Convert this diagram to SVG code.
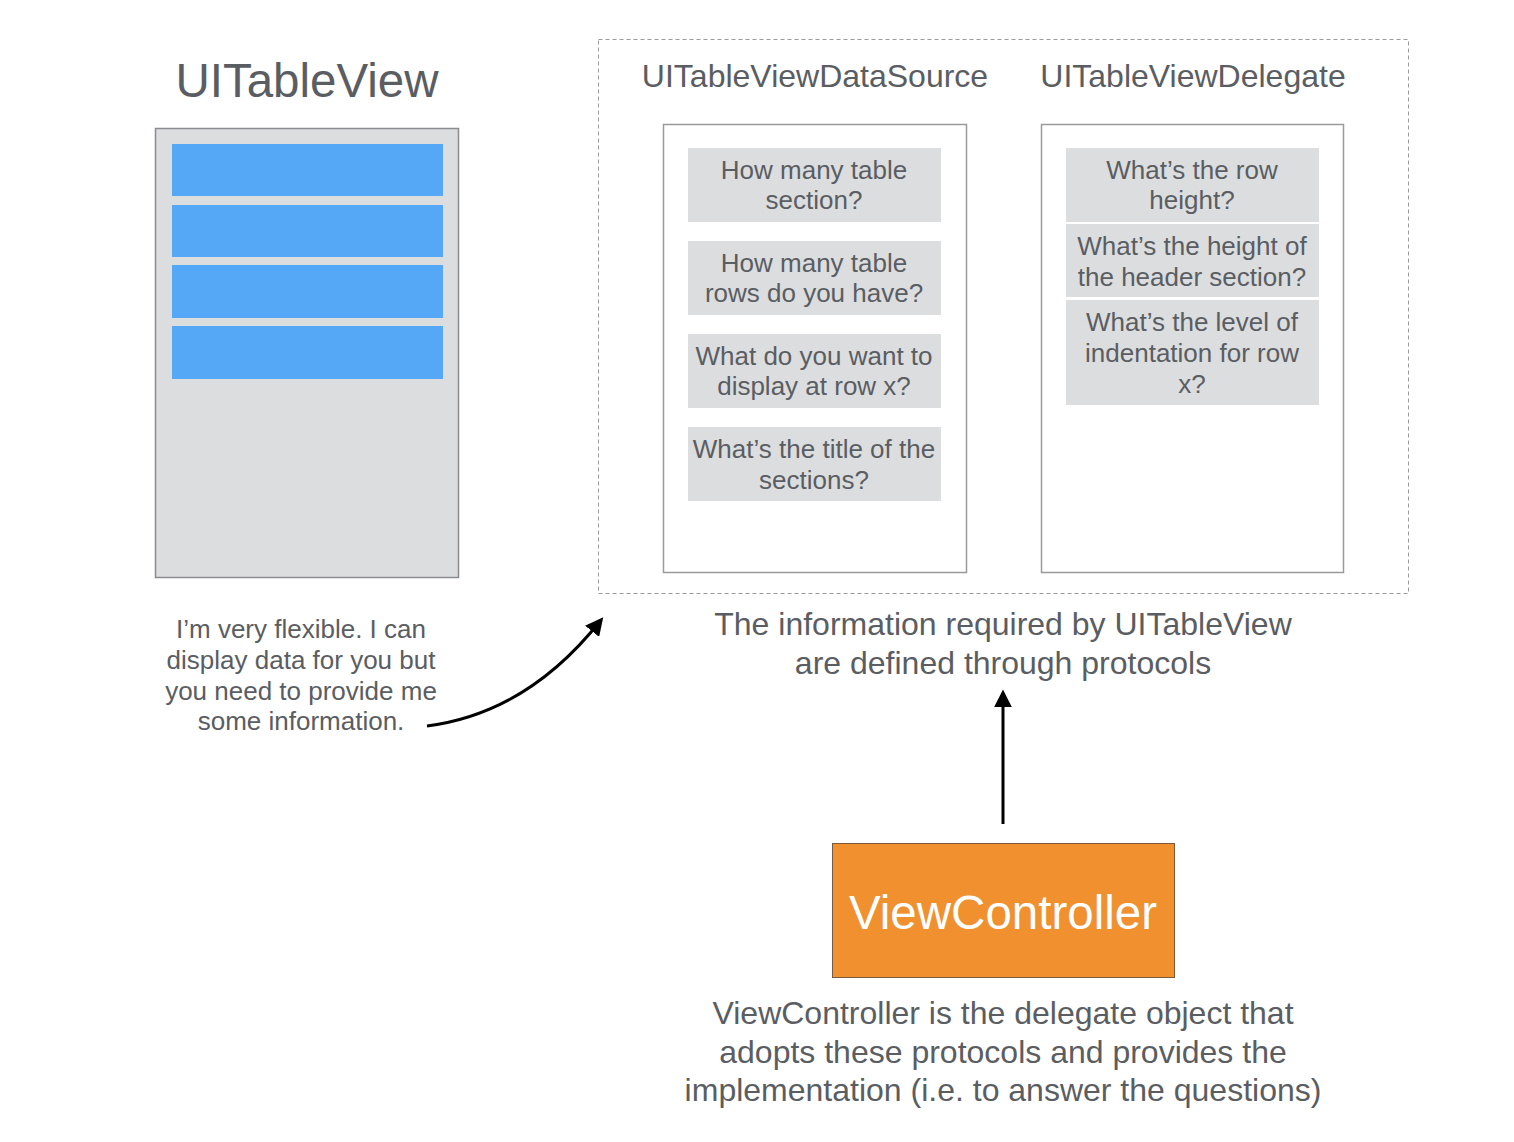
<svg xmlns="http://www.w3.org/2000/svg" width="1514" height="1142" viewBox="0 0 1514 1142">
<defs>
<style>
text{font-family:"Liberation Sans",Arial,sans-serif;fill:#5a5d62;text-anchor:middle}
.q{font-size:26px}
.h{font-size:32px}
.item{fill:#dcdddf}
.panel{fill:#fff;stroke:#9a9a9a;stroke-width:1.5}
.row{fill:#55a8f6}
.conn{fill:none;stroke:#000;stroke-width:3}
</style>
<marker id="ah" viewBox="0 0 10 10" refX="8" refY="5" markerWidth="6" markerHeight="6" orient="auto" markerUnits="strokeWidth">
<path d="M0,0 L10,5 L0,10 z" fill="#000"/>
</marker>
</defs>
<rect width="1514" height="1142" fill="#fff"/>
<g id="uitableview">
<text x="307" y="97" style="font-size:47.5px">UITableView</text>
<rect x="155.5" y="128.5" width="303" height="449" fill="#dcdddf" stroke="#8a8c90" stroke-width="1.5"/>
<rect class="row" x="172" y="144" width="271" height="52"/>
<rect class="row" x="172" y="205" width="271" height="52"/>
<rect class="row" x="172" y="265" width="271" height="53"/>
<rect class="row" x="172" y="326" width="271" height="53"/>
</g>
<g id="note-left">
<text class="q" x="301" y="638">I’m very flexible. I can</text>
<text class="q" x="301" y="669">display data for you but</text>
<text class="q" x="301" y="700">you need to provide me</text>
<text class="q" x="301" y="730">some information.</text>
</g>
<g id="protocols">
<rect x="598.5" y="39.5" width="810" height="554" fill="none" stroke="#9a9a9a" stroke-width="1" stroke-dasharray="4,3"/>
</g>
<g id="datasource">
<text class="h" x="815" y="87">UITableViewDataSource</text>
<rect class="panel" x="663.5" y="124.5" width="303" height="448"/>
<rect class="item" x="688" y="148" width="253" height="74"/>
<text class="q" x="814" y="179">How many table</text>
<text class="q" x="814" y="209">section?</text>
<rect class="item" x="688" y="241" width="253" height="74"/>
<text class="q" x="814" y="272">How many table</text>
<text class="q" x="814" y="302">rows do you have?</text>
<rect class="item" x="688" y="334" width="253" height="74"/>
<text class="q" x="814" y="365">What do you want to</text>
<text class="q" x="814" y="395">display at row x?</text>
<rect class="item" x="688" y="427" width="253" height="74"/>
<text class="q" x="814" y="458">What’s the title of the</text>
<text class="q" x="814" y="489">sections?</text>
</g>
<g id="delegate">
<text class="h" x="1193" y="87">UITableViewDelegate</text>
<rect class="panel" x="1041.5" y="124.5" width="302" height="448"/>
<rect class="item" x="1066" y="148" width="253" height="74"/>
<text class="q" x="1192" y="179">What’s the row</text>
<text class="q" x="1192" y="209">height?</text>
<rect class="item" x="1066" y="224" width="253" height="73"/>
<text class="q" x="1192" y="255">What’s the height of</text>
<text class="q" x="1192" y="286">the header section?</text>
<rect class="item" x="1066" y="300" width="253" height="105"/>
<text class="q" x="1192" y="331">What’s the level of</text>
<text class="q" x="1192" y="362">indentation for row</text>
<text class="q" x="1192" y="393">x?</text>
</g>
<g id="info-text">
<text class="h" x="1003" y="635">The information required by UITableView</text>
<text class="h" x="1003" y="674">are defined through protocols</text>
</g>
<g id="viewcontroller">
<rect x="832.5" y="843.5" width="342" height="134" fill="#f0902f" stroke="#7a5a3a" stroke-width="1"/>
<text x="1003" y="929" style="font-size:47.5px;fill:#fff">ViewController</text>
</g>
<g id="vc-note">
<text class="h" x="1003" y="1024">ViewController is the delegate object that</text>
<text class="h" x="1003" y="1063">adopts these protocols and provides the</text>
<text class="h" x="1003" y="1101">implementation (i.e. to answer the questions)</text>
</g>
<g id="connectors">
<path class="conn" d="M427,726 C505,716 560,672 601,620" marker-end="url(#ah)"/>
<path class="conn" d="M1003,824 L1003,693" marker-end="url(#ah)"/>
</g>
</svg>
